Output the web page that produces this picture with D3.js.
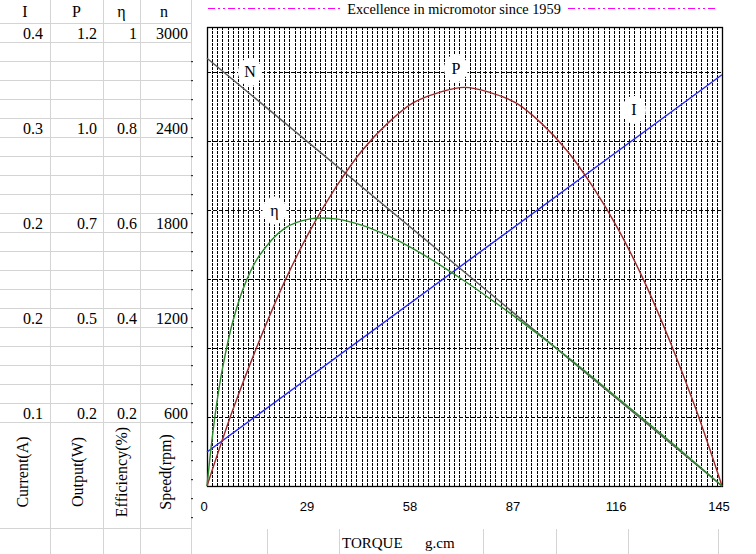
<!DOCTYPE html>
<html>
<head>
<meta charset="utf-8">
<script src="https://cdn.jsdelivr.net/npm/d3@7"></script>
<style>
  body { margin: 0; background: #fff; }
  svg { display: block; }
</style>
</head>
<body>
<div id="chart"></div>
<script>
// spreadsheet cells on the left
const tableHeader = ['I', 'P', 'η', 'n'];
const tableRows = [
  ['0.4', '1.2', '1', '3000'],
  ['0.3', '1.0', '0.8', '2400'],
  ['0.2', '0.7', '0.6', '1800'],
  ['0.2', '0.5', '0.4', '1200'],
  ['0.1', '0.2', '0.2', '600']
];
const axisNames = ['Current(A)', 'Output(W)', 'Efficiency(%)', 'Speed(rpm)'];

// chart data (torque in g.cm)
const xTicks = [0, 29, 58, 87, 116, 145];
const speedTorque = [0, 145];
const speed = [3100, 0];                 // rpm
const currentTorque = [0, 145];
const current = [0.0246, 0.298];         // A
const powerTorque = [0, 7.25, 14.5, 21.75, 29, 36.25, 43.5, 50.75, 58, 65.25, 72.5,
  79.75, 87, 94.25, 101.5, 108.75, 116, 123.25, 130.5, 137.75, 145];
const power = [0, 2.2, 4.15, 5.9, 7.4, 8.65, 9.7, 10.5, 11.1, 11.4, 11.55,
  11.4, 11.1, 10.5, 9.7, 8.65, 7.4, 5.9, 4.15, 2.2, 0];   // W
const effTorque = [0, 1.45, 2.9, 4.35, 7.25, 10.875, 14.5, 21.75, 29, 36.25, 43.5,
  50.75, 58, 72.5, 87, 101.5, 116, 130.5, 145];
const efficiency = [0, 6.9, 12.5, 17.0, 23.8, 29.5, 33.2, 37.3, 38.7, 38.7, 37.8,
  36.3, 34.4, 29.7, 24.4, 18.7, 12.6, 6.4, 0];             // %
const speedGrid = [500, 1000, 1500, 2000, 2500, 3000];

const W = 756, H = 554;
const serif = '"Liberation Serif", "Times New Roman", serif';
const sans = '"Liberation Sans", Arial, sans-serif';

const svg = d3.select('#chart').append('svg')
  .attr('width', W).attr('height', H);

// ---- spreadsheet background ----
const colEdges = [0, 50, 103, 140, 191];
const cellGrey = '#d4d4d4';
const rowLines = d3.range(0, 22).map(k => 23 + 19 * k);

svg.append('g').selectAll('line').data(rowLines.concat([528]))
  .enter().append('line')
  .attr('x1', 0).attr('x2', 191)
  .attr('y1', d => d + 0.5).attr('y2', d => d + 0.5)
  .attr('stroke', cellGrey);

svg.append('g').selectAll('line').data(colEdges.slice(1))
  .enter().append('line')
  .attr('x1', d => d + 0.5).attr('x2', d => d + 0.5)
  .attr('y1', 0).attr('y2', H)
  .attr('stroke', cellGrey);

// cell borders visible below the chart object
svg.append('g').selectAll('line').data([267, 339, 483, 556, 628, 718])
  .enter().append('line')
  .attr('x1', d => d + 0.5).attr('x2', d => d + 0.5)
  .attr('y1', 529).attr('y2', H)
  .attr('stroke', cellGrey);

// little dark row marks on the chart edge
svg.append('g').selectAll('rect').data(d3.range(0, 25).map(k => 61 + 19 * k))
  .enter().append('rect')
  .attr('x', 191).attr('y', d => d)
  .attr('width', 2).attr('height', 1.2)
  .attr('fill', '#333');

// header row
const colCenters = [25, 76.5, 121.5, 164];
svg.append('g').selectAll('text').data(tableHeader)
  .enter().append('text')
  .attr('x', (d, i) => colCenters[i]).attr('y', 17)
  .attr('text-anchor', 'middle')
  .style('font-family', serif).style('font-size', '16px')
  .text(d => d);

// value rows, right aligned
const colPad = [7, 6, 3, 3];
tableRows.forEach((row, r) => {
  svg.append('g').selectAll('text').data(row)
    .enter().append('text')
    .attr('x', (d, i) => colEdges[i + 1] - colPad[i])
    .attr('y', 38.5 + 95 * r)
    .attr('text-anchor', 'end')
    .style('font-family', serif).style('font-size', '16px')
    .text(d => d);
});

// rotated unit names
const nameX = [22, 77, 121, 165];
svg.append('g').selectAll('text').data(axisNames)
  .enter().append('text')
  .attr('transform', (d, i) => `translate(${nameX[i]},472) rotate(-90)`)
  .attr('text-anchor', 'middle')
  .attr('dominant-baseline', 'central')
  .style('font-family', serif).style('font-size', '16px')
  .text(d => d);

// ---- chart ----
const plot = { left: 207, right: 722, top: 27, bottom: 486 };
const x = d3.scaleLinear().domain([0, 145]).range([plot.left, plot.right]);
const yRange = [plot.bottom, plot.top];
const ySpeed = d3.scaleLinear().domain([0, 3326]).range(yRange);
const yCurrent = d3.scaleLinear().domain([0, 0.3326]).range(yRange);
const yPower = d3.scaleLinear().domain([0, 13.3]).range(yRange);
const yEff = d3.scaleLinear().domain([0, 66.5]).range(yRange);

// title with dash-dot rules
svg.append('line')
  .attr('x1', 208).attr('x2', 340).attr('y1', 8.5).attr('y2', 8.5)
  .attr('stroke', '#ff00ff').attr('stroke-width', 1.2)
  .attr('stroke-dasharray', '7,3,2,3,2,3');
svg.append('line')
  .attr('x1', 568).attr('x2', 717).attr('y1', 8.5).attr('y2', 8.5)
  .attr('stroke', '#ff00ff').attr('stroke-width', 1.2)
  .attr('stroke-dasharray', '7,3,2,3,2,3');
svg.append('text')
  .attr('x', 454).attr('y', 14)
  .attr('text-anchor', 'middle')
  .style('font-family', serif).style('font-size', '14.3px')
  .text('Excellence in micromotor since 1959');

const g = svg.append('g');

// vertical minor grid, every 1.45 g.cm
g.append('g').selectAll('line').data(d3.range(1, 100).map(k => k * 1.45))
  .enter().append('line')
  .attr('x1', d => Math.round(x(d)) + 0.5).attr('x2', d => Math.round(x(d)) + 0.5)
  .attr('y1', plot.top).attr('y2', plot.bottom)
  .attr('stroke', '#000').attr('stroke-width', 1)
  .attr('shape-rendering', 'crispEdges')
  .attr('stroke-dasharray', '3,1');

// horizontal grid
g.append('g').selectAll('line').data(speedGrid)
  .enter().append('line')
  .attr('x1', plot.left).attr('x2', plot.right)
  .attr('y1', d => Math.round(ySpeed(d)) + 0.5).attr('y2', d => Math.round(ySpeed(d)) + 0.5)
  .attr('stroke', '#000').attr('stroke-width', 1)
  .attr('shape-rendering', 'crispEdges')
  .attr('stroke-dasharray', '4,2');

// plot frame
g.append('rect')
  .attr('x', plot.left + 0.5).attr('y', plot.top + 0.5)
  .attr('width', plot.right - plot.left).attr('height', plot.bottom - plot.top)
  .attr('fill', 'none').attr('stroke', '#000').attr('stroke-width', 1.3);

// x axis labels
const xAxis = d3.axisBottom(x).tickValues(xTicks).tickSize(0).tickPadding(0);
const xg = g.append('g')
  .attr('transform', `translate(0,${plot.bottom})`)
  .call(xAxis);
xg.select('.domain').remove();
xg.selectAll('text')
  .attr('dx', -3.5).attr('y', 25).attr('dy', 0)
  .style('font-family', sans).style('font-size', '13px').attr('fill', '#000');

svg.append('text').attr('x', 342).attr('y', 548)
  .style('font-family', serif).style('font-size', '15px').text('TORQUE');
svg.append('text').attr('x', 425).attr('y', 548)
  .style('font-family', serif).style('font-size', '15px').text('g.cm');

// curves
const lineFor = (ys, curve) => d3.line()
  .x(d => x(d[0])).y(d => ys(d[1])).curve(curve);

const series = [
  { t: speedTorque, v: speed, y: ySpeed, color: '#5a5a5a', curve: d3.curveLinear },
  { t: currentTorque, v: current, y: yCurrent, color: '#2424ff', curve: d3.curveLinear },
  { t: powerTorque, v: power, y: yPower, color: '#a0282c', curve: d3.curveCatmullRom.alpha(0.5) },
  { t: effTorque, v: efficiency, y: yEff, color: '#2a8c2a', curve: d3.curveCatmullRom.alpha(0.5) }
];

series.forEach(s => {
  const pts = s.t.map((t, i) => [t, s.v[i]]);
  g.append('path')
    .datum(pts)
    .attr('d', lineFor(s.y, s.curve))
    .attr('fill', 'none')
    .attr('stroke', s.color)
    .attr('stroke-width', 1.4);
});

// curve name labels (torque, value in the series' own units)
const curveLabels = [
  { name: 'N', t: 12.1, v: 3000, y: ySpeed },
  { name: 'P', t: 70.1, v: 12.1, y: yPower },
  { name: 'I', t: 120.2, v: 0.2725, y: yCurrent },
  { name: 'η', t: 19.0, v: 39.9, y: yEff }
];
const lab = g.append('g').selectAll('g').data(curveLabels)
  .enter().append('g')
  .attr('transform', d => `translate(${x(d.t)},${d.y(d.v)})`);
lab.append('ellipse')
  .attr('rx', 12).attr('ry', 14)
  .attr('fill', '#fff');
lab.append('text')
  .attr('text-anchor', 'middle')
  .attr('dominant-baseline', 'central')
  .style('font-family', serif).style('font-size', '16px')
  .text(d => d.name);
</script>
</body>
</html>
